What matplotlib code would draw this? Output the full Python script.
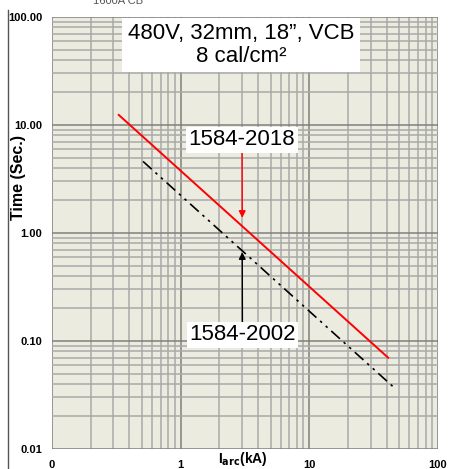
import matplotlib
matplotlib.use("Agg")
import matplotlib.pyplot as plt
from matplotlib.lines import Line2D

plt.rcParams['font.family'] = ['Liberation Sans', 'DejaVu Sans']

# data
i_2018 = [0.33, 41.0]
t_2018 = [12.4, 0.070]
i_2002 = [0.51, 44.5]
t_2002 = [4.6, 0.038]
x_ticks = [0.1, 1, 10, 100]
x_labels = ["0", "1", "10", "100"]
y_ticks = [0.01, 0.1, 1, 10, 100]
y_labels = ["0.01", "0.10", "1.00", "10.00", "100.00"]

fig = plt.figure(figsize=(4.5, 4.69), dpi=100)
ax = fig.add_axes([52/450, 1-449/469, 386/450, 432/469])
ax.set_facecolor('#ecebe0')
ax.set_xscale('log')
ax.set_yscale('log')
ax.set_xlim(0.1, 100)
ax.set_ylim(0.01, 100)

ax.grid(True, which='minor', color='#a9a9a9', lw=1.1)
ax.grid(True, which='major', color='#7f7f7f', lw=1.1)
ax.set_axisbelow(True)
for s in ax.spines.values():
    s.set_visible(False)
ax.tick_params(which='both', length=0)
ax.set_xticks(x_ticks)
ax.set_xticklabels(x_labels, fontsize=8, fontweight='bold')
ax.set_yticks(y_ticks)
ax.set_yticklabels(y_labels, fontsize=8, fontweight='bold')
ax.tick_params(axis='x', pad=8)
ax.tick_params(axis='y', pad=7)

ax.plot(i_2018, t_2018, color='red', lw=1.4)
ax.plot(i_2002, t_2002, color='black', lw=1.2, dashes=[7, 3, 1.5, 3, 1.5, 3])

ax.text(0.49, 0.935, "480V, 32mm, 18\u201d, VCB\n8 cal/cm\u00b2", transform=ax.transAxes,
        ha='center', va='center', fontsize=16, linespacing=1.1,
        bbox=dict(facecolor='white', edgecolor='none', pad=4))

ax.annotate("1584-2018", xy=(3.01, 1.38), xytext=(3.0, 7.3), ha='center', va='center',
            fontsize=16, bbox=dict(facecolor='white', edgecolor='none', pad=2),
            arrowprops=dict(arrowstyle='-|>', color='red', lw=1.0, mutation_scale=10, shrinkA=0, shrinkB=0))
ax.annotate("1584-2002", xy=(3.01, 0.665), xytext=(3.02, 0.114), ha='center', va='center',
            fontsize=16, bbox=dict(facecolor='white', edgecolor='none', pad=2),
            arrowprops=dict(arrowstyle='-|>', color='black', lw=1.0, mutation_scale=10, shrinkA=0, shrinkB=0))

fig.text(19/450, 1-177/469, "Time (Sec.)", rotation=90, ha='center', va='center',
         fontsize=11.5, fontweight='bold')
fig.text(243/450, 1-459/469, r"I$_{\mathbf{arc}}$(kA)", ha='center', va='center',
         fontsize=10, fontweight='bold')
fig.text(118/450, 0.998, "1600A CB", ha='center', va='center', fontsize=8, color='#555555')
fig.add_artist(Line2D([8/450, 8/450], [0, 1-10/469], color='#555555', lw=1.0))

fig.savefig("out.png", dpi=100)
